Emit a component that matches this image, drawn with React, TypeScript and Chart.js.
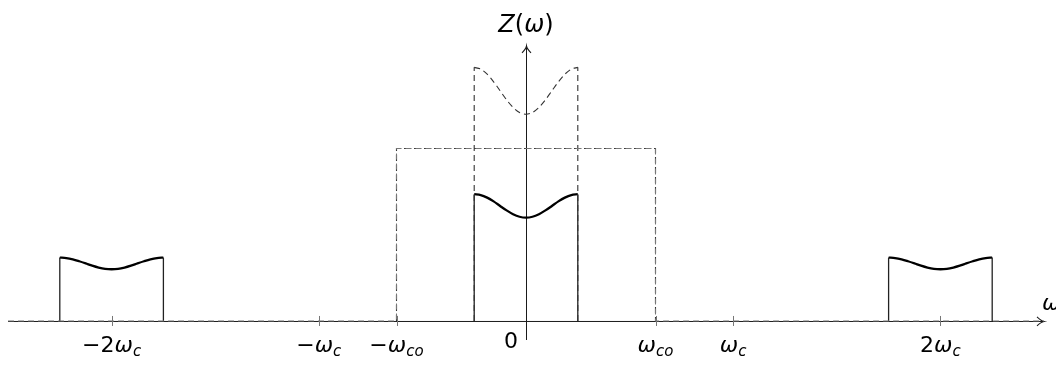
import React, { useEffect, useRef } from "react";
import { Chart, registerables } from "chart.js";

Chart.register(...registerables);

// Frequency in units of ω_c, magnitude in units of the baseband edge level.
const bandOffsets = [
  -0.25, -0.21875, -0.1875, -0.15625, -0.125, -0.09375, -0.0625, -0.03125, 0,
  0.03125, 0.0625, 0.09375, 0.125, 0.15625, 0.1875, 0.21875, 0.25,
];
const basebandLevels = [
  1.0, 0.993, 0.973, 0.943, 0.907, 0.872, 0.842, 0.822, 0.815,
  0.822, 0.842, 0.872, 0.907, 0.943, 0.973, 0.993, 1.0,
];
const imageLevels = [
  0.5, 0.496, 0.486, 0.471, 0.454, 0.436, 0.421, 0.411, 0.408,
  0.411, 0.421, 0.436, 0.454, 0.471, 0.486, 0.496, 0.5,
];
const boostedLevels = [
  2.0, 1.986, 1.946, 1.886, 1.815, 1.744, 1.684, 1.644, 1.63,
  1.644, 1.684, 1.744, 1.815, 1.886, 1.946, 1.986, 2.0,
];
const imageCenters = [-2, 2];
const cutoffFreq = 0.625; // ω_co
const cutoffLevel = 1.36;
const tickValues = [-2, -1, -0.625, 0, 0.625, 1, 2];
const tickLabels = ["−2ω_c", "−ω_c", "−ω_co", "0", "ω_co", "ω_c", "2ω_c"];
const xRange = [-2.5, 2.5];
const yRange = [-0.15, 2.2];
const yArrowTip = 2.17;
const xAxisTitle = "ω";
const yAxisTitle = "Z(ω)";

const FONT = '"DejaVu Sans", "Liberation Sans", sans-serif';

type Seg = { t: string; italic: boolean; sub: boolean };

function toSegments(text: string): Seg[] {
  const [main, sub] = text.split("_");
  const segs: Seg[] = [];
  for (const ch of main) {
    const italic = /[A-Za-zα-ω]/.test(ch);
    segs.push({ t: ch, italic, sub: false });
  }
  if (sub) segs.push({ t: sub, italic: true, sub: true });
  return segs;
}

function drawMath(
  ctx: CanvasRenderingContext2D,
  text: string,
  x: number,
  baseline: number,
  align: "center" | "left",
  size: number
) {
  const subSize = Math.round(size * 0.7);
  const fontOf = (s: Seg) => `${s.italic ? "italic " : ""}${s.sub ? subSize : size}px ${FONT}`;
  const segs = toSegments(text);
  let total = 0;
  const widths = segs.map((s) => {
    ctx.font = fontOf(s);
    const w = ctx.measureText(s.t).width;
    total += w;
    return w;
  });
  let cx = align === "center" ? x - total / 2 : x;
  ctx.textAlign = "left";
  ctx.textBaseline = "alphabetic";
  ctx.fillStyle = "#000";
  segs.forEach((s, i) => {
    ctx.font = fontOf(s);
    ctx.fillText(s.t, cx, baseline + (s.sub ? 4 : 0));
    cx += widths[i];
  });
}

const line = (points: { x: number; y: number }[], opts: Record<string, unknown>) => ({
  data: points,
  showLine: true,
  pointRadius: 0,
  fill: false,
  clip: false as const,
  ...opts,
});

const solidCurve = { borderColor: "#000", borderWidth: 2.3, tension: 0.3 };
const solidEdge = { borderColor: "#222", borderWidth: 1.3, tension: 0 };
const dashed = { borderColor: "#333", borderWidth: 1.1, borderDash: [6, 4], tension: 0 };

function buildDatasets() {
  const sets: any[] = [];
  const edge = bandOffsets[bandOffsets.length - 1];

  // Dashed cut-off envelope running along the axis
  sets.push(
    line(
      [
        { x: xRange[0], y: 0 },
        { x: -cutoffFreq, y: 0 },
        { x: -cutoffFreq, y: cutoffLevel },
        { x: cutoffFreq, y: cutoffLevel },
        { x: cutoffFreq, y: 0 },
        { x: xRange[1], y: 0 },
      ],
      { ...dashed, borderColor: "#777" }
    )
  );
  // Re-stroke the raised part of the envelope in the darker dash colour
  sets.push(
    line(
      [
        { x: -cutoffFreq, y: 0 },
        { x: -cutoffFreq, y: cutoffLevel },
        { x: cutoffFreq, y: cutoffLevel },
        { x: cutoffFreq, y: 0 },
      ],
      dashed
    )
  );

  // Dashed boosted baseband
  [-edge, edge].forEach((x) =>
    sets.push(line([{ x, y: 0 }, { x, y: boostedLevels[0] }], dashed))
  );
  sets.push(
    line(
      bandOffsets.map((x, i) => ({ x, y: boostedLevels[i] })),
      { ...dashed, tension: 0.3 }
    )
  );

  // Baseband and the images around ±2ω_c
  const bands = [
    { c: 0, levels: basebandLevels },
    ...imageCenters.map((c) => ({ c, levels: imageLevels })),
  ];
  bands.forEach(({ c, levels }) => {
    sets.push(line([{ x: c - edge, y: 0 }, { x: c - edge, y: levels[0] }], solidEdge));
    sets.push(
      line([{ x: c + edge, y: 0 }, { x: c + edge, y: levels[levels.length - 1] }], solidEdge)
    );
    sets.push(line(bandOffsets.map((x, i) => ({ x: c + x, y: levels[i] })), solidCurve));
  });
  return sets;
}

const axesPlugin = {
  id: "axesPlugin",
  beforeDatasetsDraw(chart: any) {
    const { ctx, scales } = chart;
    const xs = scales.x;
    const ys = scales.y;
    const y0 = ys.getPixelForValue(0);
    const x0 = xs.getPixelForValue(0);
    const xl = xs.getPixelForValue(xRange[0]);
    const xr = xs.getPixelForValue(xRange[1]);
    const yb = ys.getPixelForValue(yRange[0]);
    const yt = ys.getPixelForValue(yArrowTip);
    ctx.save();
    ctx.strokeStyle = "#1a1a1a";
    ctx.lineWidth = 1;
    ctx.beginPath();
    ctx.moveTo(xl, y0 + 0.5);
    ctx.lineTo(xr, y0 + 0.5);
    ctx.moveTo(x0 + 0.5, yb);
    ctx.lineTo(x0 + 0.5, yt);
    ctx.stroke();
    // arrow heads
    ctx.lineWidth = 1.1;
    ctx.beginPath();
    ctx.moveTo(xr - 7, y0 - 4);
    ctx.quadraticCurveTo(xr - 3, y0, xr, y0 + 0.5);
    ctx.quadraticCurveTo(xr - 3, y0 + 1, xr - 7, y0 + 5);
    ctx.moveTo(x0 - 4, yt + 7);
    ctx.quadraticCurveTo(x0, yt + 3, x0 + 0.5, yt);
    ctx.quadraticCurveTo(x0 + 1, yt + 3, x0 + 5, yt + 7);
    ctx.stroke();
    // tick marks
    ctx.strokeStyle = "#777";
    ctx.lineWidth = 1;
    ctx.beginPath();
    tickValues.forEach((v) => {
      if (v === 0) return;
      const px = Math.round(xs.getPixelForValue(v)) + 0.5;
      ctx.moveTo(px, y0 - 5);
      ctx.lineTo(px, y0 + 5);
    });
    ctx.stroke();
    ctx.restore();
  },
  afterDraw(chart: any) {
    const { ctx, scales } = chart;
    const xs = scales.x;
    const ys = scales.y;
    const y0 = ys.getPixelForValue(0);
    const x0 = xs.getPixelForValue(0);
    ctx.save();
    tickValues.forEach((v, i) => {
      const px = xs.getPixelForValue(v);
      if (v === 0) drawMath(ctx, tickLabels[i], px - 15, y0 + 27, "center", 22);
      else drawMath(ctx, tickLabels[i], px, y0 + 31, "center", 22);
    });
    drawMath(ctx, xAxisTitle, xs.getPixelForValue(xRange[1]) - 2, y0 - 11, "left", 22);
    drawMath(ctx, yAxisTitle, x0, ys.getPixelForValue(yArrowTip) - 14, "center", 24);
    ctx.restore();
  },
};

export default function App() {
  const ref = useRef<HTMLCanvasElement | null>(null);
  useEffect(() => {
    if (!ref.current) return;
    const chart = new Chart(ref.current, {
      type: "scatter",
      data: { datasets: buildDatasets() },
      options: {
        animation: false,
        responsive: false,
        devicePixelRatio: 1,
        layout: { padding: { left: 8, right: 12, top: 42, bottom: 26 } },
        plugins: { legend: { display: false }, tooltip: { enabled: false } },
        scales: {
          x: { type: "linear", min: xRange[0], max: xRange[1], display: false },
          y: { type: "linear", min: yRange[0], max: yRange[1], display: false },
        },
      },
      plugins: [axesPlugin],
    });
    return () => chart.destroy();
  }, []);
  return (
    <div style={{ position: "absolute", left: 0, top: 0, width: 1056, height: 366, background: "#fff" }}>
      <canvas ref={ref} width={1056} height={366} />
    </div>
  );
}
